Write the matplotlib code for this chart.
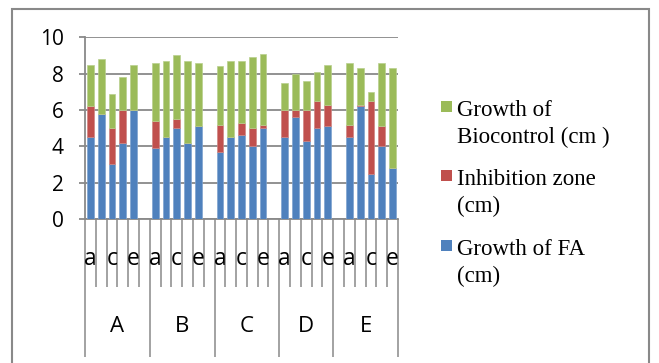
import matplotlib
matplotlib.use("Agg")
import matplotlib.pyplot as plt
from matplotlib.patches import Rectangle
import numpy as np

# ---- data -------------------------------------------------------------
groups = ["A", "B", "C", "D", "E"]
isolates = ["a", "b", "c", "d", "e"]

growth_fa = {
    "A": [4.5, 5.8, 3.0, 4.2, 6.0],
    "B": [3.9, 4.5, 5.0, 4.2, 5.1],
    "C": [3.7, 4.5, 4.6, 4.0, 5.0],
    "D": [4.5, 5.6, 4.3, 5.0, 5.1],
    "E": [4.5, 6.2, 2.5, 4.0, 2.8],
}
inhibition = {
    "A": [1.7, 0.0, 2.0, 1.8, 0.0],
    "B": [1.5, 0.0, 0.5, 0.0, 0.0],
    "C": [1.5, 0.0, 0.7, 1.0, 0.2],
    "D": [1.5, 0.4, 1.7, 1.5, 1.2],
    "E": [0.7, 0.1, 4.0, 1.1, 0.0],
}
growth_bio = {
    "A": [2.3, 3.0, 1.9, 1.8, 2.5],
    "B": [3.2, 4.2, 3.5, 4.5, 3.5],
    "C": [3.2, 4.2, 3.4, 3.9, 3.9],
    "D": [1.5, 2.0, 1.6, 1.6, 2.2],
    "E": [3.4, 2.0, 0.5, 3.5, 5.5],
}
y_ticks = [0, 2, 4, 6, 8, 10]

legend_labels = [
    ("Growth of", "Biocontrol (cm )"),
    ("Inhibition zone", "(cm)"),
    ("Growth of FA", "(cm)"),
]

# ---- style ------------------------------------------------------------
BLUE, RED, GREEN = "#4F81BD", "#C0504D", "#9BBB59"
GRAY = "#898989"
W, H = 659, 363
SANS = ["Open Sans", "DejaVu Sans"]

# empty spacer slots on the category axis (before/after each group)
spacer_before = {"A": 0, "B": 0, "C": 0, "D": 0, "E": 1}
spacer_after = {"A": 1, "B": 1, "C": 1, "D": 0, "E": 0}

slot_labels = []
group_spans = []
bar_x = {}
pos = 0
for g in groups:
    start = pos
    slot_labels += [""] * spacer_before[g]
    pos += spacer_before[g]
    bar_x[g] = list(range(pos, pos + len(isolates)))
    slot_labels += isolates
    pos += len(isolates)
    slot_labels += [""] * spacer_after[g]
    pos += spacer_after[g]
    group_spans.append((start - 0.5, pos - 0.5))
n_slots = pos


def fx(px):
    return px / W


def fy(py):
    return 1 - py / H


fig = plt.figure(figsize=(W / 100, H / 100), dpi=100)
ax_left, ax_right, ax_top, ax_bottom = 85, 398, 37.3, 219
ax = fig.add_axes([fx(ax_left), fy(ax_bottom),
                   (ax_right - ax_left) / W, (ax_bottom - ax_top) / H])

# chart border
fig.patches.append(Rectangle((fx(12), -0.05), fx(649) - fx(12), fy(9) + 0.05,
                             transform=fig.transFigure, fill=False,
                             edgecolor=GRAY, linewidth=1.5))

bw = 0.62
for g in groups:
    x = np.array(bar_x[g])
    fa = np.array(growth_fa[g])
    inh = np.array(inhibition[g])
    bio = np.array(growth_bio[g])
    ax.bar(x, fa, bw, color=BLUE, edgecolor="#7FA3D0", linewidth=0.5, zorder=3)
    ax.bar(x, inh, bw, bottom=fa, color=RED, edgecolor="#D08583", linewidth=0.5, zorder=3)
    ax.bar(x, bio, bw, bottom=fa + inh, color=GREEN, edgecolor="#B9D08E", linewidth=0.5, zorder=3)

ax.set_xlim(-0.5, n_slots - 0.5)
ax.set_ylim(0, 10)
ax.set_yticks(y_ticks)
ax.set_yticklabels([str(v) for v in y_ticks], fontsize=15, family=SANS)
ax.yaxis.grid(True, color=GRAY, linewidth=1.3, zorder=0)
ax.set_axisbelow(True)
for s in ["top", "right"]:
    ax.spines[s].set_visible(False)
for s in ["left", "bottom"]:
    ax.spines[s].set_color(GRAY)
    ax.spines[s].set_linewidth(1.3)
ax.tick_params(axis="y", direction="out", length=4.3, width=1.3, color=GRAY, pad=11)

# two-level category axis: long separators between groups, short between slots
bounds = [b for span in group_spans for b in span]
group_bounds = sorted(set(bounds))
slot_bounds = [k - 0.5 for k in range(1, n_slots) if (k - 0.5) not in group_bounds]
ax.set_xticks(group_bounds)
ax.set_xticks(slot_bounds, minor=True)
ax.set_xticklabels([])
ax.tick_params(axis="x", which="major", direction="out", length=(357 - 219) * 0.72,
               width=1.1, color=GRAY)
ax.tick_params(axis="x", which="minor", direction="out", length=(287 - 219) * 0.72,
               width=1.1, color=GRAY)

xt = ax.get_xaxis_transform()


def ay(py):
    return (ax_bottom - py) / (ax_bottom - ax_top)


# every other slot label, as the axis skips labels when crowded
for k in range(0, n_slots, 2):
    if slot_labels[k]:
        ax.text(k, ay(259), slot_labels[k], transform=xt, ha="center", va="center",
                fontsize=16.5, family=SANS, clip_on=False)
for g, (a, b) in zip(groups, group_spans):
    ax.text((a + b) / 2, ay(327), g, transform=xt, ha="center", va="center",
            fontsize=16, family=SANS, clip_on=False)

# legend
legend_colors = [GREEN, RED, BLUE]
first_base = [116, 185, 255]
for (l1, l2), c, yb in zip(legend_labels, legend_colors, first_base):
    fig.patches.append(Rectangle((fx(441), fy(yb - 4)), 11 / W, 11 / H,
                                 transform=fig.transFigure, facecolor=c, edgecolor="none"))
    fig.text(fx(457), fy(yb), l1, fontsize=16.5, family="Liberation Serif", va="baseline")
    fig.text(fx(457), fy(yb + 27), l2, fontsize=16.5, family="Liberation Serif", va="baseline")

fig.savefig("out.png", dpi=100)
